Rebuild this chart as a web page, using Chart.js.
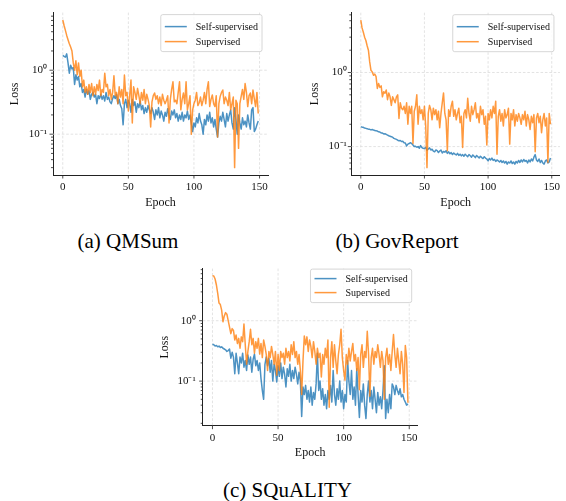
<!DOCTYPE html>
<html><head><meta charset="utf-8">
<script src="https://cdn.jsdelivr.net/npm/chart.js@4/dist/chart.umd.min.js"></script>
<style>
html,body{margin:0;padding:0;background:#fff;}
body{width:566px;height:501px;position:relative;overflow:hidden;font-family:'Liberation Serif','Times New Roman',serif;}
canvas{position:absolute;}
.cap{position:absolute;font-size:21px;color:#000;transform:translate(-50%,-50%);white-space:nowrap;line-height:1;}
</style></head><body>
<canvas id="cA" width="283" height="215" style="left:0px;top:0px;width:283px;height:215px"></canvas>
<canvas id="cB" width="283" height="215" style="left:283px;top:0px;width:283px;height:215px"></canvas>
<canvas id="cC" width="283" height="210" style="left:150px;top:255px;width:283px;height:210px"></canvas>
<div class="cap" style="left:128px;top:241px">(a) QMSum</div>
<div class="cap" style="left:397px;top:241px">(b) GovReport</div>
<div class="cap" style="left:287.5px;top:490px">(c) SQuALITY</div>
<script>
// ---------- data ----------
const epochs = Array.from({length:150}, (_, i) => i);
const seriesNames = ['Self-supervised', 'Supervised'];
const xTickValues = [0, 50, 100, 150];
const yMinorMultipliers = [2,3,4,5,6,7,8,9];

const qmsumSelf = [
1.7,1.65,1.6,1.8,1.3,0.9,1.2,1.05,1.1,0.6,
0.85,0.7,0.8,0.55,0.62,0.45,0.5,0.38,0.5,0.42,
0.48,0.35,0.42,0.45,0.38,0.42,0.3,0.4,0.36,0.42,
0.35,0.4,0.33,0.45,0.35,0.38,0.32,0.3,0.36,0.4,
0.36,0.42,0.3,0.35,0.28,0.25,0.14,0.3,0.35,0.26,
0.34,0.3,0.22,0.35,0.28,0.32,0.22,0.3,0.26,0.33,
0.24,0.28,0.21,0.26,0.22,0.28,0.24,0.21,0.26,0.22,
0.17,0.24,0.2,0.26,0.18,0.23,0.2,0.16,0.22,0.19,
0.25,0.2,0.17,0.23,0.2,0.24,0.18,0.21,0.16,0.2,
0.17,0.22,0.16,0.2,0.18,0.23,0.17,0.2,0.15,0.11,
0.15,0.13,0.18,0.15,0.21,0.16,0.14,0.1,0.17,0.14,
0.2,0.16,0.22,0.15,0.18,0.13,0.17,0.12,0.09,0.15,
0.19,0.16,0.22,0.17,0.13,0.21,0.16,0.2,0.24,0.15,
0.12,0.26,0.17,0.1,0.2,0.15,0.12,0.18,0.14,0.16,
0.13,0.2,0.15,0.12,0.24,0.26,0.11,0.12,0.14,0.16];
const qmsumSup = [
6.1,5.0,4.2,3.5,3.0,2.6,2.3,2.0,1.3,1.0,
1.4,0.85,1.3,0.8,1.0,0.55,0.7,0.45,0.55,0.42,
0.6,0.45,0.62,0.4,0.55,0.42,0.6,0.48,0.7,0.4,
0.5,0.45,0.9,0.55,0.6,0.4,0.5,0.35,0.45,0.82,
0.4,0.45,0.3,0.55,0.38,0.5,0.3,0.84,0.4,0.45,
0.23,0.4,0.7,0.15,0.55,0.45,0.35,0.52,0.4,0.3,
0.45,0.34,0.5,0.3,0.42,0.35,0.28,0.13,0.32,0.4,
0.44,0.35,0.4,0.3,0.38,0.28,0.42,0.34,0.3,0.34,
0.4,0.15,0.35,0.5,0.66,0.32,0.34,0.3,0.45,0.66,
0.24,0.35,0.44,0.3,0.66,0.24,0.3,0.4,0.1,0.24,
0.3,0.34,0.45,0.28,0.31,0.38,0.28,0.34,0.45,0.3,
0.5,0.66,0.27,0.35,0.41,0.3,0.27,0.4,0.09,0.3,
0.39,0.45,0.49,0.3,0.38,0.34,0.28,0.45,0.24,0.3,
0.38,0.03,0.34,0.3,0.06,0.3,0.39,0.5,0.35,0.62,
0.45,0.27,0.4,0.44,0.3,0.49,0.36,0.27,0.45,0.21];

const govSelf = [
0.185,0.183,0.182,0.178,0.176,0.174,0.172,0.171,0.168,0.17,
0.167,0.165,0.163,0.162,0.158,0.157,0.153,0.152,0.148,0.149,
0.146,0.143,0.14,0.138,0.136,0.134,0.129,0.127,0.125,0.122,
0.12,0.121,0.117,0.118,0.113,0.112,0.102,0.108,0.11,0.113,
0.11,0.105,0.1,0.101,0.098,0.1,0.095,0.103,0.097,0.095,
0.094,0.098,0.089,0.093,0.096,0.09,0.092,0.087,0.085,0.09,
0.088,0.083,0.087,0.09,0.082,0.086,0.084,0.088,0.081,0.085,
0.08,0.083,0.078,0.082,0.079,0.077,0.081,0.076,0.079,0.075,
0.078,0.074,0.079,0.076,0.073,0.078,0.075,0.072,0.077,0.074,
0.071,0.076,0.073,0.07,0.074,0.071,0.069,0.073,0.07,0.068,
0.064,0.069,0.066,0.07,0.065,0.067,0.063,0.066,0.064,0.062,
0.065,0.061,0.064,0.06,0.063,0.058,0.062,0.06,0.064,0.059,
0.062,0.058,0.063,0.06,0.065,0.061,0.066,0.062,0.067,0.063,
0.065,0.06,0.066,0.062,0.068,0.064,0.072,0.078,0.066,0.063,
0.068,0.061,0.065,0.06,0.058,0.064,0.066,0.06,0.062,0.07];
const govSup = [
5.1,4.0,3.5,3.0,2.7,2.3,2.0,1.39,1.07,1.02,
0.92,0.95,0.88,0.61,0.71,0.63,0.66,0.47,0.55,0.525,
0.58,0.43,0.53,0.47,0.36,0.47,0.43,0.39,0.47,0.5,
0.24,0.39,0.33,0.315,0.35,0.28,0.39,0.2,0.35,0.28,
0.35,0.11,0.3,0.35,0.5,0.2,0.35,0.28,0.315,0.23,
0.35,0.19,0.052,0.28,0.36,0.315,0.23,0.33,0.27,0.315,
0.23,0.3,0.18,0.28,0.39,0.53,0.28,0.23,0.088,0.315,
0.256,0.35,0.41,0.256,0.315,0.23,0.28,0.33,0.21,0.256,
0.097,0.28,0.315,0.244,0.45,0.28,0.22,0.35,0.27,0.315,
0.39,0.244,0.28,0.21,0.35,0.27,0.315,0.2,0.256,0.105,
0.28,0.23,0.315,0.244,0.35,0.28,0.41,0.079,0.256,0.315,
0.22,0.28,0.19,0.315,0.244,0.27,0.33,0.108,0.28,0.23,
0.315,0.19,0.27,0.22,0.28,0.244,0.2,0.27,0.23,0.3,
0.19,0.27,0.23,0.17,0.256,0.21,0.27,0.085,0.244,0.28,
0.21,0.256,0.154,0.23,0.28,0.19,0.244,0.061,0.28,0.2];

const squalitySelf = [
0.41,0.4,0.38,0.39,0.37,0.38,0.36,0.37,0.35,0.34,
0.33,0.31,0.32,0.34,0.24,0.3,0.25,0.133,0.29,0.2,
0.133,0.25,0.2,0.29,0.17,0.22,0.15,0.27,0.19,0.25,
0.14,0.23,0.28,0.18,0.22,0.15,0.2,0.11,0.07,0.05,
0.19,0.25,0.18,0.24,0.14,0.22,0.1,0.19,0.15,0.097,
0.18,0.12,0.2,0.11,0.17,0.13,0.08,0.16,0.12,0.19,
0.1,0.15,0.11,0.17,0.13,0.09,0.14,0.1,0.026,0.08,
0.06,0.085,0.05,0.07,0.045,0.08,0.04,0.065,0.05,0.09,
0.29,0.07,0.1,0.05,0.075,0.04,0.06,0.035,0.07,0.05,
0.085,0.045,0.15,0.06,0.04,0.075,0.05,0.1,0.045,0.07,
0.035,0.06,0.045,0.22,0.1,0.06,0.15,0.05,0.08,0.04,
0.16,0.06,0.025,0.07,0.045,0.09,0.04,0.024,0.06,0.1,
0.045,0.07,0.035,0.08,0.05,0.03,0.065,0.04,0.055,0.035,
0.07,0.18,0.024,0.05,0.03,0.06,0.035,0.09,0.08,0.06,
0.085,0.07,0.06,0.075,0.055,0.06,0.05,0.045,0.04,0.042];
const squalitySup = [
5.55,5.5,4.9,3.9,2.83,1.96,1.85,1.5,0.96,1.2,
1.36,1.28,1.0,0.78,0.61,0.74,0.69,0.48,0.58,0.42,
0.51,0.35,0.54,0.45,0.88,0.4,0.19,0.31,0.45,0.72,
0.4,0.51,0.29,0.45,0.35,0.51,0.28,0.42,0.245,0.48,
0.375,0.276,0.15,0.31,0.245,0.375,0.276,0.19,0.31,0.125,
0.276,0.15,0.31,0.245,0.29,0.19,0.35,0.245,0.31,0.216,
0.4,0.276,0.45,0.245,0.31,0.19,0.276,0.15,0.06,0.216,
0.56,0.4,0.54,0.31,0.48,0.375,0.245,0.45,0.31,0.19,
0.35,0.245,0.29,0.117,0.276,0.19,0.35,0.245,0.48,0.037,
0.245,0.45,0.169,0.4,0.216,0.133,0.276,0.4,0.72,0.245,
0.15,0.104,0.276,0.19,0.35,0.216,0.31,0.42,0.216,0.276,
0.15,0.245,0.072,0.276,0.4,0.169,0.31,0.245,0.667,0.276,
0.056,0.245,0.35,0.19,0.31,0.245,0.4,0.276,0.169,0.31,
0.216,0.05,0.245,0.35,0.19,0.276,0.15,0.31,0.59,0.276,
0.169,0.35,0.216,0.133,0.31,0.19,0.065,0.39,0.245,0.044];

// ---------- style ----------
const BLUE = 'rgba(31,119,180,0.8)';
const ORANGE = 'rgba(255,127,14,0.8)';
const AXIS = '#222';
const FONT = "'Liberation Serif','Times New Roman',serif";

const SUP = {'-':'\u207B','0':'\u2070','1':'\u00B9','2':'\u00B2','3':'\u00B3','4':'\u2074','5':'\u2075','6':'\u2076','7':'\u2077','8':'\u2078','9':'\u2079'};
function isDecade(v){ const e = Math.log10(v); return Math.abs(e - Math.round(e)) < 1e-6; }
function decadeLabel(v){ return '10' + String(Math.round(Math.log10(v))).split('').map(c => SUP[c]).join(''); }

const deco = {
  id: 'deco',
  beforeDatasetsDraw(chart) {
    const {ctx, chartArea: a, scales: {x, y}} = chart;
    ctx.save();
    ctx.strokeStyle = '#dcdcdc'; ctx.lineWidth = 0.8; ctx.setLineDash([2.6, 1.8]);
    x.ticks.forEach(t => {
      const px = x.getPixelForValue(t.value);
      ctx.beginPath(); ctx.moveTo(px, a.top); ctx.lineTo(px, a.bottom); ctx.stroke();
    });
    y.ticks.filter(t => isDecade(t.value)).forEach(t => {
      const py = y.getPixelForValue(t.value);
      ctx.beginPath(); ctx.moveTo(a.left, py); ctx.lineTo(a.right, py); ctx.stroke();
    });
    ctx.restore();
  },
  afterDraw(chart, args, opts) {
    const {ctx, chartArea: a, scales: {x, y}} = chart;
    ctx.save();
    ctx.strokeStyle = AXIS; ctx.lineWidth = 0.8;
    x.ticks.forEach(t => {
      const px = x.getPixelForValue(t.value);
      ctx.beginPath(); ctx.moveTo(px, a.bottom); ctx.lineTo(px, a.bottom + 3.5); ctx.stroke();
    });
    y.ticks.forEach(t => {
      const py = y.getPixelForValue(t.value);
      const len = isDecade(t.value) ? 3.5 : 2;
      ctx.beginPath(); ctx.moveTo(a.left, py); ctx.lineTo(a.left - len, py); ctx.stroke();
    });
    // legend box
    const ds = chart.data.datasets;
    ctx.font = '10px ' + FONT;
    const tw = Math.max(...ds.map(d => ctx.measureText(d.label).width));
    const w = 35 + tw + 4, h = opts.boxH;
    const bx = a.right - opts.inset - w, by = a.top + opts.top;
    ctx.fillStyle = 'rgba(255,255,255,0.85)';
    ctx.strokeStyle = '#cccccc'; ctx.lineWidth = 0.8;
    ctx.beginPath();
    if (ctx.roundRect) ctx.roundRect(bx, by, w, h, 2); else ctx.rect(bx, by, w, h);
    ctx.fill(); ctx.stroke();
    ds.forEach((d, i) => {
      const ry = by + opts.row0 + i * opts.rowGap;
      ctx.strokeStyle = d.borderColor; ctx.lineWidth = 1.5;
      ctx.beginPath(); ctx.moveTo(bx + 4, ry); ctx.lineTo(bx + 26, ry); ctx.stroke();
      ctx.fillStyle = '#111'; ctx.textBaseline = 'middle'; ctx.textAlign = 'left';
      ctx.fillText(d.label, bx + 35, ry + 0.5);
    });
    ctx.restore();
  }
};

function build(id, selfVals, supVals, L) {
  const all = selfVals.concat(supVals);
  const lo = Math.log10(Math.min(...all)), hi = Math.log10(Math.max(...all));
  const m = (hi - lo) * 0.05;
  const yMin = Math.pow(10, lo - m), yMax = Math.pow(10, hi + m);
  const xm = (epochs[epochs.length - 1] - epochs[0]) * 0.05;
  const yTicks = [];
  for (let k = Math.floor(lo - m); k <= Math.ceil(hi + m); k++) {
    [1].concat(yMinorMultipliers).forEach(mu => {
      const v = mu * Math.pow(10, k);
      if (v >= yMin && v <= yMax) yTicks.push(v);
    });
  }
  const ca = L.area;
  new Chart(document.getElementById(id), {
    type: 'line',
    data: {
      datasets: [
        {label: seriesNames[0], data: selfVals.map((v, i) => ({x: epochs[i], y: v})), borderColor: BLUE, order: 1},
        {label: seriesNames[1], data: supVals.map((v, i) => ({x: epochs[i], y: v})), borderColor: ORANGE, order: 0}
      ]
    },
    options: {
      responsive: false, animation: false, devicePixelRatio: 1,
      layout: {padding: {left: 0, top: ca.top, right: L.w - ca.right, bottom: 0}},
      elements: {point: {radius: 0}, line: {borderWidth: 1.5, tension: 0, borderJoinStyle: 'round'}},
      plugins: {legend: {display: false}, tooltip: {enabled: false}, deco: L.legend},
      scales: {
        x: {
          type: 'linear', min: epochs[0] - xm, max: epochs[epochs.length - 1] + xm,
          afterBuildTicks: s => { s.ticks = xTickValues.map(v => ({value: v})); },
          afterFit: s => { s.height = L.h - ca.bottom; },
          grid: {display: false, drawTicks: false, tickLength: 0},
          border: {display: true, color: AXIS, width: 1},
          ticks: {padding: L.xPad, color: '#111', font: {family: FONT, size: 11}, maxRotation: 0, autoSkip: false, callback: v => String(v)},
          title: {display: true, text: 'Epoch', color: '#111', font: {family: FONT, size: 12}, padding: {top: 0, bottom: L.xTitlePad}}
        },
        y: {
          type: 'logarithmic', min: yMin, max: yMax,
          afterBuildTicks: s => { s.ticks = yTicks.map(v => ({value: v})); },
          afterFit: s => { s.width = ca.left; },
          grid: {display: false, drawTicks: false, tickLength: 0},
          border: {display: true, color: AXIS, width: 1},
          ticks: {padding: L.yPad, color: '#111', font: {family: FONT, size: 11}, autoSkip: false, callback: v => isDecade(v) ? decadeLabel(v) : ''},
          title: {display: true, text: 'Loss', color: '#111', font: {family: FONT, size: 12}, padding: {top: L.yTitlePad, bottom: 0}}
        }
      }
    },
    plugins: [deco]
  });
}

build('cA', qmsumSelf, qmsumSup, {
  w: 283, h: 215, area: {left: 53, top: 12, right: 268, bottom: 175},
  xPad: 6, xTitlePad: 4.8, yPad: 6, yTitlePad: 7.8,
  legend: {inset: 6, top: 2, boxH: 37, row0: 12, rowGap: 15}
});
build('cB', govSelf, govSup, {
  w: 283, h: 215, area: {left: 68.3, top: 12.7, right: 282.7, bottom: 175},
  xPad: 6, xTitlePad: 4.8, yPad: 4.5, yTitlePad: 24.5,
  legend: {inset: 6, top: 2, boxH: 37, row0: 12, rowGap: 15}
});
build('cC', squalitySelf, squalitySup, {
  w: 283, h: 210, area: {left: 52.7, top: 6.7, right: 267.7, bottom: 170.7},
  xPad: 5.5, xTitlePad: 4.8, yPad: 7, yTitlePad: 7.8,
  legend: {inset: 6, top: 0.5, boxH: 33.5, row0: 9.5, rowGap: 14}
});
</script>
</body></html>
